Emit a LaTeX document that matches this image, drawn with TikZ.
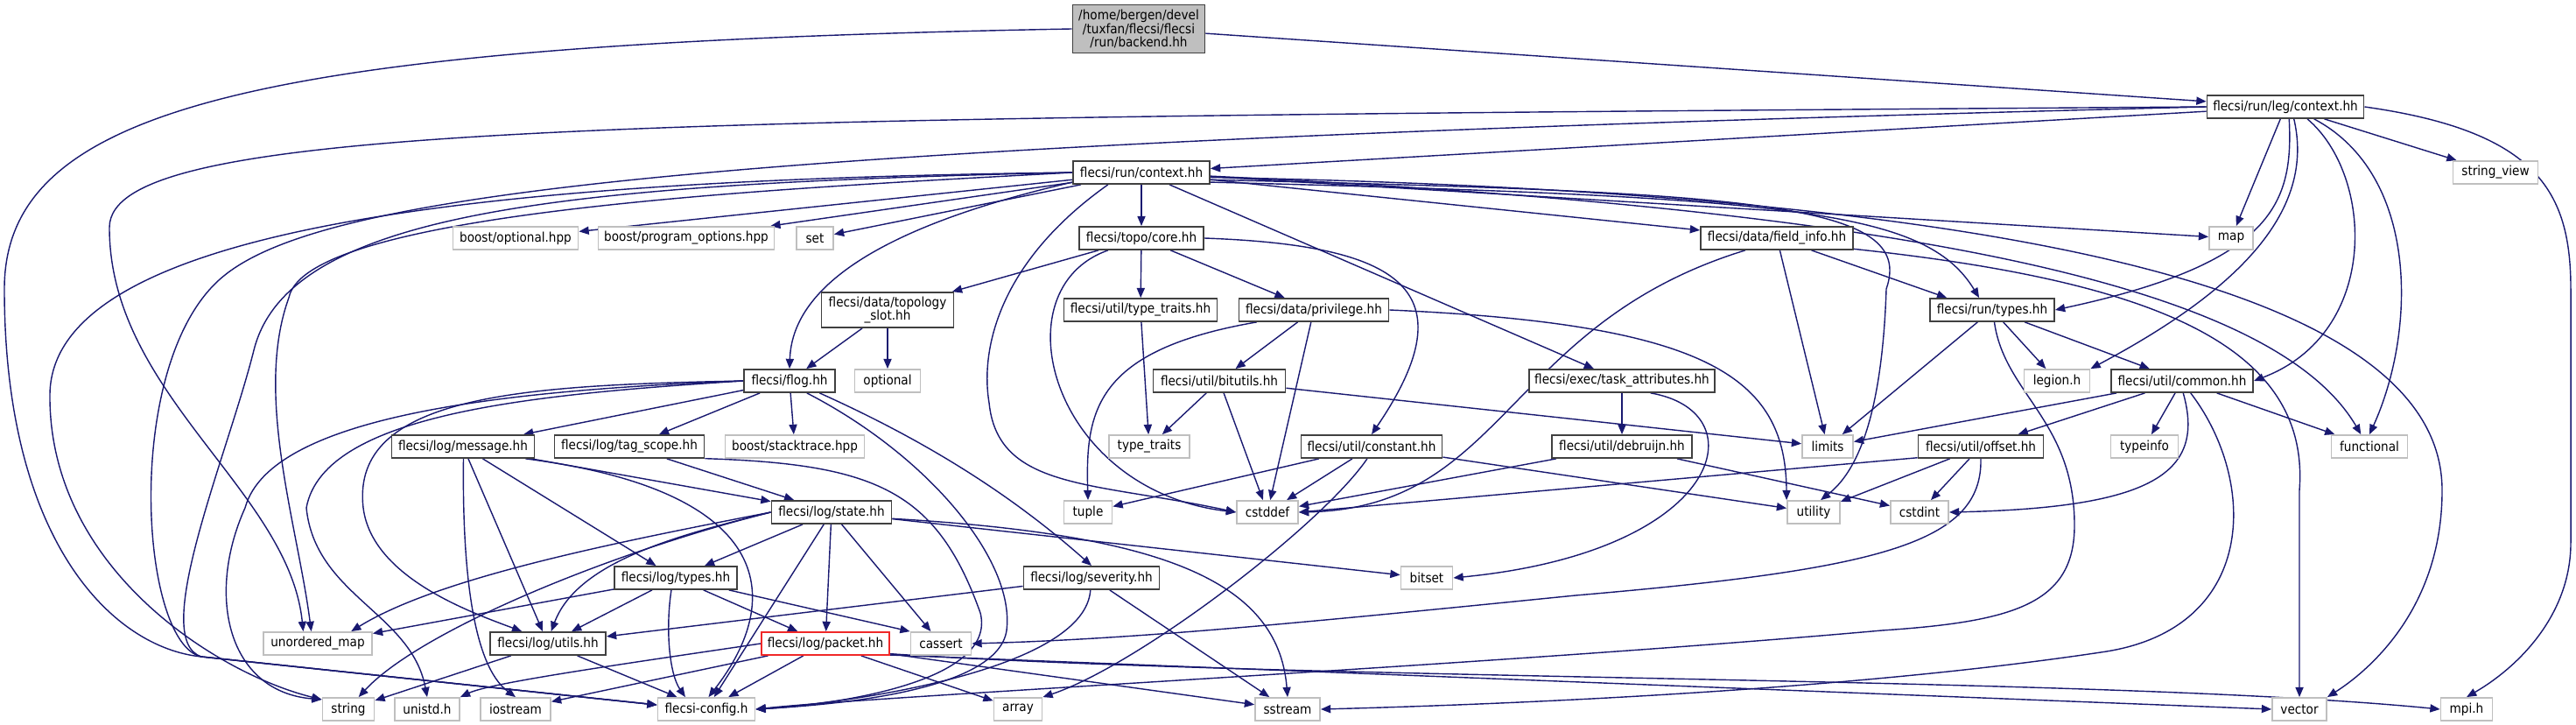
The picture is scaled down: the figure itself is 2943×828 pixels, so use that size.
\documentclass[tikz,border=0pt]{standalone}
\usepackage{fontspec}
\setmainfont{DejaVu Sans}[FakeStretch=0.9]
\usepackage{xcolor}
\definecolor{dxedge}{RGB}{25,25,112}
\definecolor{dxline}{RGB}{64,64,64}
\definecolor{dxsys}{RGB}{191,191,191}
\definecolor{dxfill}{RGB}{191,191,191}
\definecolor{dxred}{RGB}{240,40,40}
\usepackage{tikz}
\usetikzlibrary{arrows.meta}
\pgfdeclarelayer{edges}
\pgfsetlayers{edges,main}

\tikzset{
  hfile/.style={draw=dxline, fill=white, line width=0.5pt, inner sep=0pt,
    minimum height=0.26cm, font=\fontsize{4.3}{4.4}\selectfont},
  sfile/.style={hfile, draw=dxsys},
  dep/.style={draw=dxedge, line width=0.4pt, -{Triangle[length=3.2pt,width=2.6pt]}},
}

\begin{document}
\begin{tikzpicture}[x=0.01cm, y=0.01cm]
  \useasboundingbox (0,0) rectangle (2943,-828);

  % Top
  \node[hfile, fill=dxfill, minimum width=1.51cm, minimum height=0.55cm, align=center] (backend) at (1301,-33)
       {/home/bergen/devel\\/tuxfan/flecsi/flecsi\\/run/backend.hh};
  \node[hfile, minimum width=1.79cm] (legctx) at (2611,-122) {flecsi/run/leg/context.hh};
  \node[hfile, minimum width=1.56cm] (runctx) at (1304,-197) {flecsi/run/context.hh};
  \node[sfile, minimum width=0.97cm] (strview) at (2851,-197) {string\_view};

  % Row 272
  \node[sfile, minimum width=1.43cm] (boostopt) at (589,-272) {boost/optional.hpp};
  \node[sfile, minimum width=2.01cm] (progopt) at (784,-272) {boost/program\_options.hpp};
  \node[sfile, minimum width=0.42cm] (set) at (931,-272) {set};
  \node[hfile, minimum width=1.42cm] (topocore) at (1304,-272) {flecsi/topo/core.hh};
  \node[hfile, minimum width=1.74cm] (fieldinfo) at (2030,-272) {flecsi/data/field\_info.hh};
  \node[sfile, minimum width=0.50cm] (map) at (2549,-272) {map};

  % Row 354
  \node[hfile, minimum width=1.51cm, minimum height=0.40cm, align=center] (topslot) at (1014,-354)
       {flecsi/data/topology\\\_slot.hh};
  \node[hfile, minimum width=1.75cm] (utiltt) at (1303,-354) {flecsi/util/type\_traits.hh};
  \node[hfile, minimum width=1.71cm] (privilege) at (1501,-354) {flecsi/data/privilege.hh};
  \node[hfile, minimum width=1.42cm] (runtypes) at (2276,-354) {flecsi/run/types.hh};

  % Row 435
  \node[hfile, minimum width=1.04cm] (flog) at (902,-435) {flecsi/flog.hh};
  \node[sfile, minimum width=0.75cm] (optional) at (1014,-435) {optional};
  \node[hfile, minimum width=1.51cm] (bitutils) at (1393,-435) {flecsi/util/bitutils.hh};
  \node[hfile, minimum width=2.12cm] (taskattr) at (1853,-435) {flecsi/exec/task\_attributes.hh};
  \node[sfile, minimum width=0.75cm] (legion) at (2350,-435) {legion.h};
  \node[hfile, minimum width=1.62cm] (common) at (2493,-435) {flecsi/util/common.hh};

  % Row 510
  \node[hfile, minimum width=1.63cm] (message) at (529,-510) {flecsi/log/message.hh};
  \node[hfile, minimum width=1.71cm] (tagscope) at (719,-510) {flecsi/log/tag\_scope.hh};
  \node[sfile, minimum width=1.59cm] (stacktrace) at (908,-510) {boost/stacktrace.hpp};
  \node[sfile, minimum width=0.92cm] (typetraits) at (1313,-510) {type\_traits};
  \node[hfile, minimum width=1.61cm] (constant) at (1567,-510) {flecsi/util/constant.hh};
  \node[hfile, minimum width=1.60cm] (debruijn) at (1853,-510) {flecsi/util/debruijn.hh};
  \node[sfile, minimum width=0.58cm] (limits) at (2088,-510) {limits};
  \node[hfile, minimum width=1.43cm] (offset) at (2263,-510) {flecsi/util/offset.hh};
  \node[sfile, minimum width=0.77cm] (typeinfo) at (2450,-510) {typeinfo};
  \node[sfile, minimum width=0.87cm] (functional) at (2707,-510) {functional};

  % Row 585
  \node[hfile, minimum width=1.37cm] (state) at (950,-585) {flecsi/log/state.hh};
  \node[sfile, minimum width=0.55cm] (tuple) at (1243,-585) {tuple};
  \node[sfile, minimum width=0.70cm] (cstddef) at (1448,-585) {cstddef};
  \node[sfile, minimum width=0.60cm] (utility) at (2072,-585) {utility};
  \node[sfile, minimum width=0.66cm] (cstdint) at (2193,-585) {cstdint};

  % Row 660
  \node[hfile, minimum width=1.40cm] (logtypes) at (772,-660) {flecsi/log/types.hh};
  \node[hfile, minimum width=1.55cm] (severity) at (1247,-660) {flecsi/log/severity.hh};
  \node[sfile, minimum width=0.59cm] (bitset) at (1630,-660) {bitset};

  % Row 735
  \node[sfile, minimum width=1.24cm] (umap) at (363,-735) {unordered\_map};
  \node[hfile, minimum width=1.32cm] (utils) at (626,-735) {flecsi/log/utils.hh};
  \node[hfile, draw=dxred, minimum width=1.46cm] (packet) at (943,-735) {flecsi/log/packet.hh};
  \node[sfile, minimum width=0.69cm] (cassert) at (1075,-735) {cassert};

  % Bottom row
  \node[sfile, minimum width=0.59cm] (string) at (398,-810) {string};
  \node[sfile, minimum width=0.74cm] (unistd) at (488,-810) {unistd.h};
  \node[sfile, minimum width=0.80cm] (iostream) at (589,-810) {iostream};
  \node[sfile, minimum width=1.11cm] (config) at (807,-810) {flecsi-config.h};
  \node[sfile, minimum width=0.55cm] (array) at (1163,-810) {array};
  \node[sfile, minimum width=0.74cm] (sstream) at (1471,-810) {sstream};
  \node[sfile, minimum width=0.62cm] (vector) at (2627,-810) {vector};
  \node[sfile, minimum width=0.59cm] (mpi) at (2818,-810) {mpi.h};

  \begin{pgfonlayer}{edges}
  % backend.hh
  \draw[dep] (backend) -- (legctx);
  \draw[dep] (backend.west) .. controls (300,-50) and (5,-120) .. (5,-330)
       .. controls (5,-620) and (130,-740) .. (230,-750) -- (config.175);

  % run/leg/context.hh
  \draw[dep] (legctx) -- (runctx);
  \draw[dep] (legctx.west) .. controls (700,-135) and (125,-140) .. (125,-260)
       .. controls (125,-450) and (330,-560) .. (umap.140);
  \draw[dep] (legctx.west) .. controls (800,-165) and (360,-220) .. (250,-320)
       .. controls (140,-420) and (160,-735) .. (230,-750) -- (config.175);
  \draw[dep] (legctx) -- (map);
  \draw[dep] (legctx) -- (strview);
  \draw[dep] (legctx.east) .. controls (2900,-150) and (2937,-220) .. (2937,-330) -- (2937,-620)
       .. controls (2937,-700) and (2880,-760) .. (mpi.north);
  \draw[dep] (legctx.-73) .. controls (2620,-230) and (2600,-300) .. (runtypes.east);
  \draw[dep] (legctx.-55) .. controls (2645,-240) and (2560,-330) .. (legion.north east);
  \draw[dep] (legctx.-29) .. controls (2712,-200) and (2720,-380) .. (common.east);
  \draw[dep] (legctx.-23) .. controls (2765,-200) and (2760,-380) .. (functional.north);

  % run/context.hh
  \draw[dep] (runctx) -- (boostopt);
  \draw[dep] (runctx) -- (progopt);
  \draw[dep] (runctx) -- (set);
  \draw[dep] (runctx) -- (topocore);
  \draw[dep] (runctx) -- (fieldinfo);
  \draw[dep] (runctx) -- (map);
  \draw[dep] (runctx) -- (taskattr);
  \draw[dep] (runctx.188) .. controls (1000,-260) and (905,-330) .. (flog.north);
  \draw[dep] (runctx.-160) .. controls (1140,-300) and (1120,-400) .. (1130,-460)
       .. controls (1140,-560) and (1250,-550) .. (cstddef.west);
  \draw[dep] (runctx.-8) .. controls (2050,-225) and (2200,-240) .. (runtypes.137);
  \draw[dep] (runctx.-6) .. controls (2000,-220) and (2190,-230) .. (2155,-330)
       .. controls (2150,-480) and (2120,-540) .. (utility.60);
  \draw[dep] (runctx.-4) .. controls (2300,-220) and (2790,-330) .. (2790,-560)
       .. controls (2790,-700) and (2700,-770) .. (vector.north east);
  \draw[dep] (runctx.-3) .. controls (2200,-240) and (2600,-330) .. (functional.125);
  \draw[dep] (runctx.west) .. controls (900,-215) and (350,-240) .. (330,-340)
       .. controls (290,-450) and (340,-600) .. (umap.118);
  \draw[dep] (runctx.west) .. controls (600,-205) and (60,-250) .. (57,-450)
       .. controls (55,-650) and (250,-770) .. (string.160);
  \draw[dep] (runctx.west) .. controls (650,-210) and (330,-240) .. (290,-400)
       .. controls (260,-520) and (170,-730) .. (230,-750) -- (config.175);

  % topo/core.hh
  \draw[dep] (topocore) -- (topslot);
  \draw[dep] (topocore) -- (utiltt);
  \draw[dep] (topocore) -- (privilege);
  \draw[dep] (topocore.-160) .. controls (1140,-330) and (1200,-560) .. (cstddef.west);
  \draw[dep] (topocore.east) .. controls (1600,-280) and (1680,-330) .. (constant.north);

  % data/topology_slot.hh, util/type_traits.hh
  \draw[dep] (topslot) -- (flog);
  \draw[dep] (topslot) -- (optional);
  \draw[dep] (utiltt) -- (typetraits);

  % data/privilege.hh
  \draw[dep] (privilege) -- (bitutils);
  \draw[dep] (privilege.-168) .. controls (1250,-400) and (1240,-470) .. (tuple.north);
  \draw[dep] (privilege) -- (cstddef);
  \draw[dep] (privilege.east) .. controls (1950,-370) and (2040,-430) .. (utility.north west);

  % util/bitutils.hh
  \draw[dep] (bitutils) -- (typetraits);
  \draw[dep] (bitutils) -- (cstddef);
  \draw[dep] (bitutils) -- (limits);

  % data/field_info.hh
  \draw[dep] (fieldinfo) -- (runtypes.165);
  \draw[dep] (fieldinfo) -- (limits);
  \draw[dep] (fieldinfo.-159) .. controls (1720,-370) and (1720,-580) .. (cstddef.east);
  \draw[dep] (fieldinfo.-8) .. controls (2450,-320) and (2640,-390) .. (2627,-560) -- (vector.north);

  % exec/task_attributes.hh
  \draw[dep] (taskattr) -- (debruijn);
  \draw[dep] (taskattr.-23) .. controls (2010,-470) and (1970,-630) .. (bitset.east);

  % run/types.hh
  \draw[dep] (runtypes) -- (limits);
  \draw[dep] (runtypes) -- (legion);
  \draw[dep] (runtypes) -- (common);
  \draw[dep] (runtypes.-80) .. controls (2290,-450) and (2370,-480) .. (2370,-600)
       .. controls (2370,-690) and (2300,-710) .. (2150,-720)
       .. controls (1700,-760) and (1000,-795) .. (config.east);

  % util/common.hh
  \draw[dep] (common) -- (limits);
  \draw[dep] (common) -- (offset);
  \draw[dep] (common) -- (typeinfo);
  \draw[dep] (common) -- (functional);
  \draw[dep] (common.-85) .. controls (2520,-540) and (2460,-580) .. (cstdint.east);
  \draw[dep] (common.-55) .. controls (2580,-550) and (2580,-720) .. (2400,-745)
       .. controls (2100,-790) and (1700,-805) .. (sstream.east);

  % util/offset.hh
  \draw[dep] (offset.-170) -- (cstddef.east);
  \draw[dep] (offset) -- (utility);
  \draw[dep] (offset) -- (cstdint);
  \draw[dep] (offset.south) .. controls (2265,-620) and (2150,-650) .. (1800,-680)
       .. controls (1500,-710) and (1300,-730) .. (cassert.east);

  % util/constant.hh, util/debruijn.hh
  \draw[dep] (constant) -- (tuple);
  \draw[dep] (constant) -- (cstddef);
  \draw[dep] (constant.-110) .. controls (1510,-600) and (1300,-760) .. (array.north east);
  \draw[dep] (constant) -- (utility);
  \draw[dep] (debruijn) -- (cstddef);
  \draw[dep] (debruijn) -- (cstdint);

  % flog.hh
  \draw[dep] (flog) -- (message);
  \draw[dep] (flog) -- (tagscope);
  \draw[dep] (flog) -- (stacktrace);
  \draw[dep] (flog.-22) .. controls (1050,-500) and (1150,-560) .. (severity.north);
  \draw[dep] (flog.-35) .. controls (1060,-520) and (1160,-640) .. (1150,-720)
       .. controls (1140,-790) and (950,-805) .. (config.east);
  \draw[dep] (flog.west) .. controls (600,-440) and (400,-450) .. (415,-580)
       .. controls (425,-660) and (540,-700) .. (utils.155);
  \draw[dep] (flog.west) .. controls (600,-445) and (310,-470) .. (280,-580)
       .. controls (235,-680) and (260,-790) .. (string.160);
  \draw[dep] (flog.west) .. controls (620,-450) and (370,-470) .. (350,-580)
       .. controls (360,-680) and (470,-700) .. (unistd.north);

  % log/message.hh
  \draw[dep] (message.-88) .. controls (528,-650) and (540,-760) .. (iostream.north);
  \draw[dep] (message) -- (utils);
  \draw[dep] (message) -- (logtypes);
  \draw[dep] (message) -- (state);
  \draw[dep] (message.-11) .. controls (880,-560) and (900,-680) .. (config.80);

  % log/tag_scope.hh
  \draw[dep] (tagscope) -- (state);
  \draw[dep] (tagscope.-9) .. controls (1000,-530) and (1070,-560) .. (1120,-700)
       .. controls (1140,-780) and (950,-805) .. (config.east);

  % log/state.hh
  \draw[dep] (state) -- (logtypes);
  \draw[dep] (state) -- (packet);
  \draw[dep] (state) -- (cassert);
  \draw[dep] (state) -- (config);
  \draw[dep] (state) -- (bitset);
  \draw[dep] (state.-6) .. controls (1320,-610) and (1460,-660) .. (sstream.north);
  \draw[dep] (state.west) .. controls (780,-610) and (660,-640) .. (utils.75);
  \draw[dep] (state.west) .. controls (700,-620) and (500,-660) .. (umap.20);
  \draw[dep] (state.west) .. controls (700,-630) and (480,-720) .. (string.50);

  % log/types.hh
  \draw[dep] (logtypes) -- (umap);
  \draw[dep] (logtypes) -- (utils);
  \draw[dep] (logtypes) -- (packet);
  \draw[dep] (logtypes) -- (cassert.north west);
  \draw[dep] (logtypes.-110) .. controls (760,-720) and (765,-770) .. (config.150);

  % log/severity.hh
  \draw[dep] (severity) -- (utils);
  \draw[dep] (severity.-95) .. controls (1240,-760) and (1000,-800) .. (config.east);
  \draw[dep] (severity) -- (sstream);

  % log/utils.hh
  \draw[dep] (utils) -- (string);
  \draw[dep] (utils) -- (config);

  % log/packet.hh
  \draw[dep] (packet) -- (config);
  \draw[dep] (packet) -- (array);
  \draw[dep] (packet.-9) -- (sstream);
  \draw[dep] (packet.-9) .. controls (1500,-778) and (2400,-772) .. (mpi.west);
  \draw[dep] (packet.-10) -- (vector.west);
  \draw[dep] (packet) -- (iostream);
  \draw[dep] (packet.west) .. controls (700,-760) and (560,-780) .. (unistd.north east);
  \end{pgfonlayer}
\end{tikzpicture}
\end{document}
